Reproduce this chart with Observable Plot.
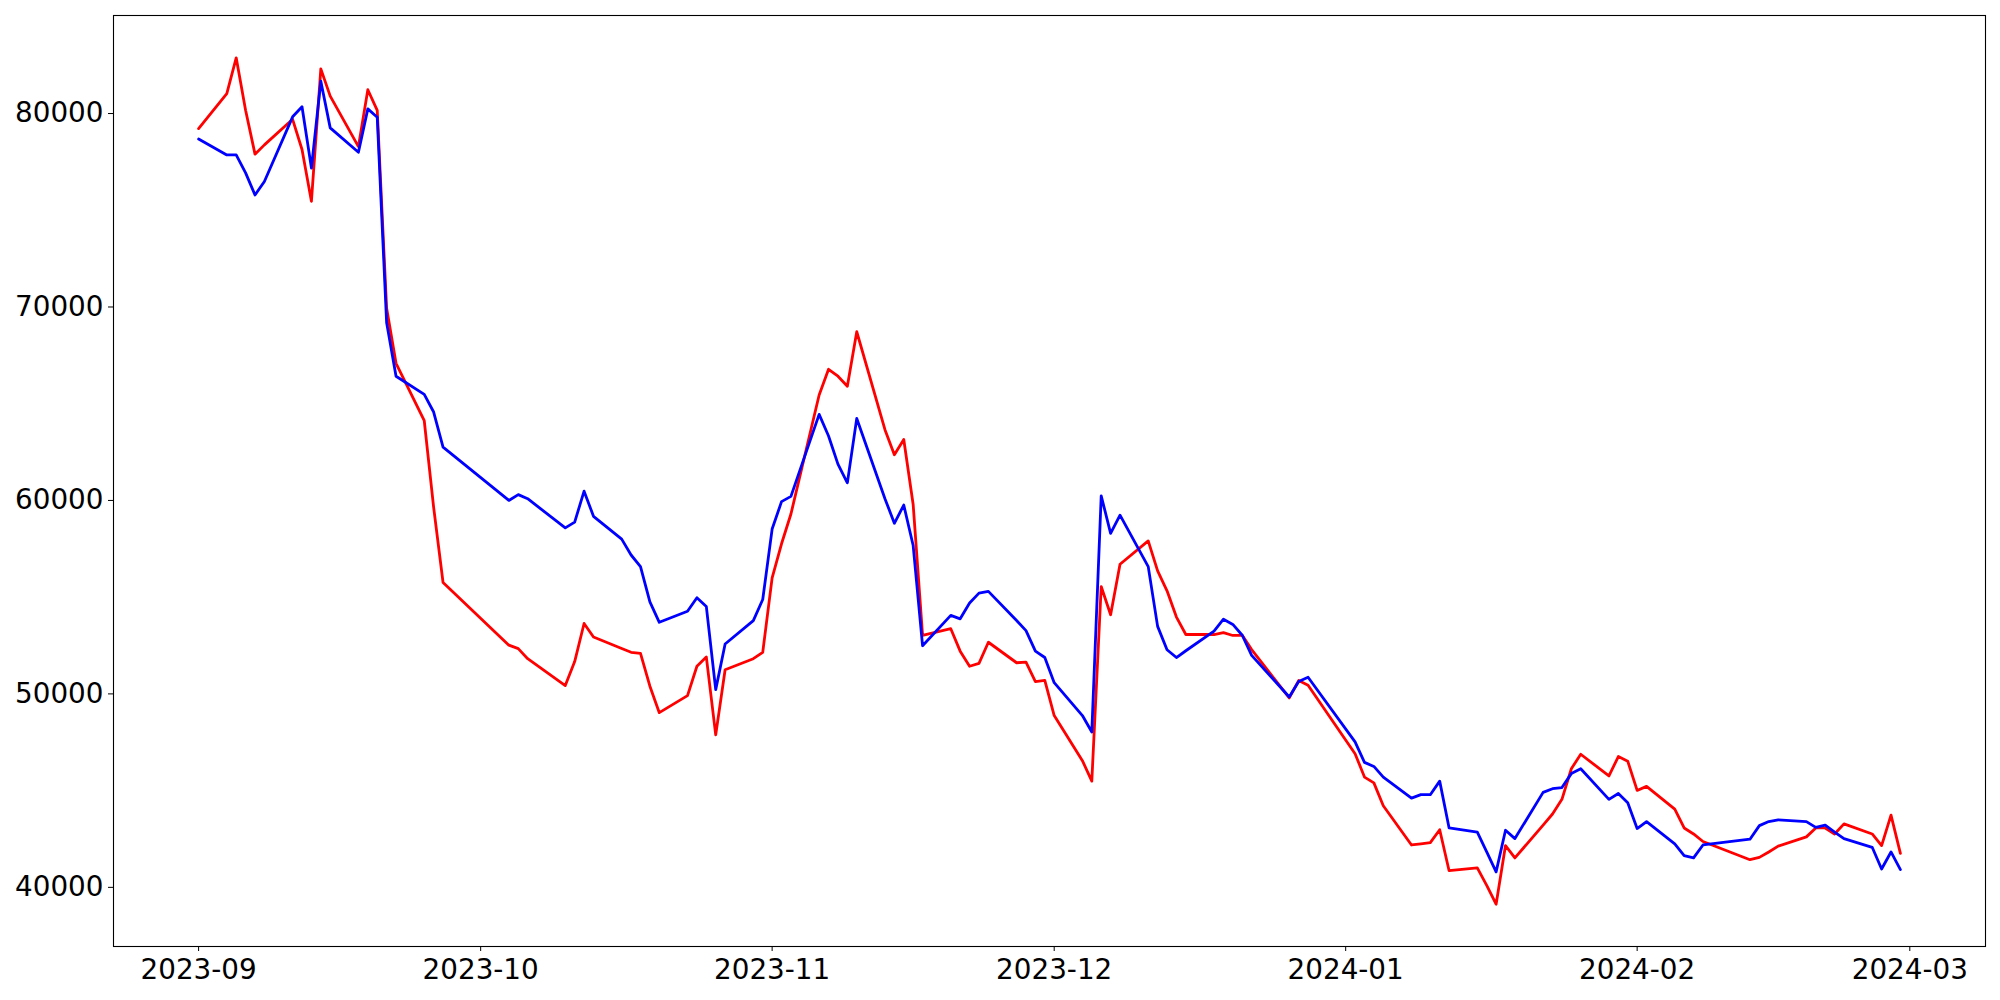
<!DOCTYPE html>
<html>
<head>
<meta charset="utf-8">
<script src="https://cdn.jsdelivr.net/npm/d3@7"></script>
<script src="https://cdn.jsdelivr.net/npm/@observablehq/plot@0.6"></script>
<style>
  html, body { margin: 0; padding: 0; background: #ffffff; }
  #chart { width: 2000px; height: 1000px; }
</style>
</head>
<body>
<div id="chart"></div>
<script>
// Trading dates
const dates = [
  "2023-09-01","2023-09-04","2023-09-05","2023-09-06","2023-09-07","2023-09-08",
  "2023-09-11","2023-09-12","2023-09-13","2023-09-14","2023-09-15",
  "2023-09-18","2023-09-19","2023-09-20","2023-09-21","2023-09-22",
  "2023-09-25","2023-09-26","2023-09-27",
  "2023-10-04","2023-10-05","2023-10-06",
  "2023-10-10","2023-10-11","2023-10-12","2023-10-13",
  "2023-10-16","2023-10-17","2023-10-18","2023-10-19","2023-10-20",
  "2023-10-23","2023-10-24","2023-10-25","2023-10-26","2023-10-27",
  "2023-10-30","2023-10-31",
  "2023-11-01","2023-11-02","2023-11-03",
  "2023-11-06","2023-11-07","2023-11-08","2023-11-09","2023-11-10",
  "2023-11-13","2023-11-14","2023-11-15","2023-11-16","2023-11-17",
  "2023-11-20","2023-11-21","2023-11-22","2023-11-23","2023-11-24",
  "2023-11-27","2023-11-28","2023-11-29","2023-11-30",
  "2023-12-01",
  "2023-12-04","2023-12-05","2023-12-06","2023-12-07","2023-12-08",
  "2023-12-11","2023-12-12","2023-12-13","2023-12-14","2023-12-15",
  "2023-12-18","2023-12-19","2023-12-20","2023-12-21","2023-12-22",
  "2023-12-26","2023-12-27","2023-12-28",
  "2024-01-02","2024-01-03","2024-01-04","2024-01-05",
  "2024-01-08","2024-01-09","2024-01-10","2024-01-11","2024-01-12",
  "2024-01-15","2024-01-16","2024-01-17","2024-01-18","2024-01-19",
  "2024-01-22","2024-01-23","2024-01-24","2024-01-25","2024-01-26",
  "2024-01-29","2024-01-30","2024-01-31",
  "2024-02-01","2024-02-02",
  "2024-02-05","2024-02-06","2024-02-07","2024-02-08",
  "2024-02-13","2024-02-14","2024-02-15","2024-02-16",
  "2024-02-19","2024-02-20","2024-02-21","2024-02-22","2024-02-23",
  "2024-02-26","2024-02-27","2024-02-28","2024-02-29"
];

// Red series
const redValues = [
  79220, 81030, 82880, 80170, 77900, 78380,
  79700, 78140, 75460, 82310, 80900,
  78290, 81230, 80160, 69930, 67090,
  64120, 59640, 55760,
  52520, 52340, 51820,
  50430, 51670, 53640, 52940,
  52350, 52150, 52090, 50400, 49030,
  49910, 51430, 51910, 47880, 51250,
  51820, 52150,
  56000, 57760, 59300,
  65450, 66780, 66420, 65900, 68720,
  63660, 62360, 63150, 59790, 53030,
  53370, 52210, 51430, 51580, 52670,
  51610, 51640, 50640, 50700,
  48880,
  46550, 45490, 55550, 54090, 56700,
  57910, 56360, 55330, 53970, 53070,
  53070, 53170, 53020, 53030, 52290,
  49790, 50690, 50450,
  46910, 45700, 45400, 44220,
  42190, 42250, 42310, 42980, 40860,
  41010, 40100, 39130, 42160, 41520,
  43220, 43790, 44550, 46130, 46880,
  45760, 46760, 46520,
  45010, 45220,
  44040, 43070, 42760, 42370,
  41430, 41550, 41830, 42130,
  42610, 43070, 43070, 42760, 43280,
  42760, 42160, 43730, 41760
];

// Blue series
const blueValues = [
  78680, 77860, 77860, 76930, 75790, 76490,
  79830, 80350, 77180, 81670, 79260,
  78000, 80240, 79810, 69180, 66420,
  65480, 64570, 62760,
  60000, 60300, 60090,
  58580, 58880, 60480, 59180,
  58000, 57180, 56580, 54760, 53700,
  54270, 54970, 54520, 50220, 52580,
  53790, 54880,
  58520, 59940, 60210,
  64450, 63330, 61880, 60910, 64240,
  60090, 58820, 59760, 57670, 52490,
  54060, 53880, 54700, 55210, 55300,
  53790, 53270, 52210, 51880,
  50580,
  48880, 48030, 60240, 58300, 59240,
  56580, 53490, 52280, 51880, 52230,
  53250, 53860, 53590, 53030, 51990,
  49840, 50640, 50860,
  47520, 46460, 46250, 45700,
  44610, 44790, 44790, 45490, 43070,
  42850, 41830, 40800, 42950, 42520,
  44910, 45100, 45160, 45880, 46130,
  44550, 44850, 44370,
  43040, 43400,
  42250, 41640, 41520, 42190,
  42490, 43190, 43400, 43490,
  43400, 43100, 43220, 42860, 42520,
  42070, 40950, 41830, 40920
];

const yTicks = [40000, 50000, 60000, 70000, 80000];
const xTicks = ["2023-09-01","2023-10-01","2023-11-01","2023-12-01","2024-01-01","2024-02-01","2024-03-01"];

const parse = d3.utcParse("%Y-%m-%d");
const data = dates.map((d, i) => ({date: parse(d), red: redValues[i], blue: blueValues[i]}));

// matplotlib-style 5% margins
function padded(lo, hi) { const p = (hi - lo) * 0.05; return [lo - p, hi + p]; }
const xExt = d3.extent(data, d => +d.date);
const xDom = padded(xExt[0], xExt[1]).map(t => new Date(t));
const allVals = redValues.concat(blueValues);
const yDom = padded(d3.min(allVals), d3.max(allVals));

const chart = Plot.plot({
  width: 2000,
  height: 1000,
  marginLeft: 113,
  marginRight: 15,
  marginTop: 15,
  marginBottom: 54,
  style: {fontFamily: "'DejaVu Sans', sans-serif", fontSize: "27.8px", color: "black", background: "white", overflow: "visible"},
  x: {
    type: "utc",
    domain: xDom,
    ticks: xTicks.map(parse),
    tickFormat: d3.utcFormat("%Y-%m"),
    tickSize: 5,
    tickPadding: 7.5,
    label: null
  },
  y: {
    domain: yDom,
    ticks: yTicks,
    tickFormat: d => String(d),
    tickSize: 5,
    tickPadding: 5,
    label: null
  },
  marks: [
    Plot.line(data, {x: "date", y: "red", stroke: "red", strokeWidth: 2.8}),
    Plot.line(data, {x: "date", y: "blue", stroke: "blue", strokeWidth: 2.8}),
    Plot.frame({stroke: "black", strokeWidth: 1.1})
  ]
});
document.getElementById("chart").appendChild(chart);
</script>
</body>
</html>
